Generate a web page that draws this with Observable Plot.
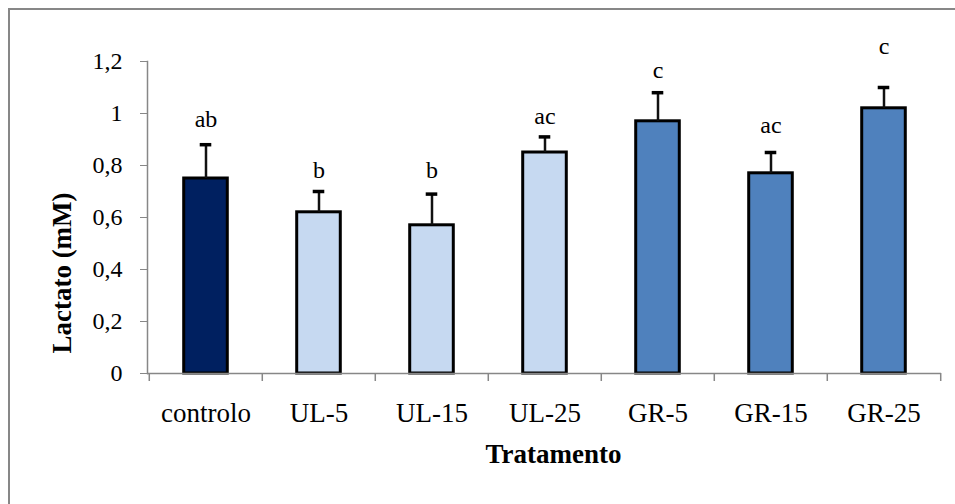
<!DOCTYPE html>
<html>
<head>
<meta charset="utf-8">
<script src="https://cdn.jsdelivr.net/npm/d3@7"></script>
<script src="https://cdn.jsdelivr.net/npm/@observablehq/plot@0.6"></script>
<style>
  html, body { margin: 0; padding: 0; background: #fff; }
  #wrap { position: relative; width: 955px; height: 504px; overflow: hidden; }
  #border { position: absolute; left: 8px; top: 8px; width: 947px; height: 496px;
            border-top: 2px solid #878787; border-left: 2px solid #878787; box-sizing: border-box; pointer-events: none; }
  #ylabel { position: absolute; left: 62px; top: 273px; transform: translate(-50%, -50%) rotate(-90deg);
            font-family: 'Liberation Serif', 'Times New Roman', serif; font-weight: bold; font-size: 27px;
            white-space: nowrap; color: #000; line-height: 1; }
</style>
</head>
<body>
<div id="wrap"><div id="border"></div><div id="ylabel">Lactato (mM)</div></div>
<script>
const categories = ["controlo", "UL-5", "UL-15", "UL-25", "GR-5", "GR-15", "GR-25"];
const means = [0.75, 0.62, 0.57, 0.85, 0.97, 0.77, 1.02];
const errors = [0.13, 0.08, 0.12, 0.06, 0.11, 0.08, 0.08];
const letters = ["ab", "b", "b", "ac", "c", "ac", "c"];
const letterY = [0.976, 0.78, 0.78, 0.99, 1.168, 0.953, 1.257];
const colors = ["#002060", "#C6D9F1", "#C6D9F1", "#C6D9F1", "#4F81BD", "#4F81BD", "#4F81BD"];
const yTicks = [0, 0.2, 0.4, 0.6, 0.8, 1, 1.2];

const data = categories.map((c, i) => ({
  cat: c, mean: means[i], err: errors[i], upper: means[i] + errors[i],
  letter: letters[i], ly: letterY[i], color: colors[i]
}));

const W = 955, H = 504, mL = 147, mR = 14, mT = 61, mB = 131;
const step = (W - mL - mR) / categories.length;
const serif = "'Liberation Serif', 'Times New Roman', serif";

const chart = Plot.plot({
  width: W, height: H,
  marginLeft: mL, marginRight: mR, marginTop: mT, marginBottom: mB,
  style: { fontFamily: serif, background: "transparent", color: "#000", overflow: "visible" },
  x: { domain: categories, padding: 0, label: null },
  y: { domain: [0, 1.2], label: null },
  marks: [
    Plot.barY(data, { x: "cat", y: "mean", fill: "color", stroke: "#000", strokeWidth: 3,
      insetLeft: step * 0.306, insetRight: step * 0.306 }),
    Plot.ruleX(data, { x: "cat", y1: "mean", y2: "upper", stroke: "#111", strokeWidth: 2.5 }),
    Plot.tickY(data, { x: "cat", y: "upper", stroke: "#000", strokeWidth: 3.5,
      insetLeft: (step - 12) / 2, insetRight: (step - 12) / 2 }),
    Plot.text(data, { x: "cat", y: "ly", text: "letter", fontSize: 24, fill: "#000" }),
    Plot.ruleY([0], { stroke: "#878787", strokeWidth: 1.5 }),
    Plot.frame({ anchor: "left", stroke: "#878787", strokeWidth: 1.5 }),
    Plot.axisY({ ticks: yTicks, tickSize: 7, tickPadding: 18, stroke: "#878787",
      tickFormat: d => String(d).replace(".", ","), fontSize: 24, fill: "#000", label: null }),
    Plot.axisX({ tickSize: 0, tickPadding: 29, fontSize: 27, fill: "#000", label: null }),
    Plot.axisX({ tickSize: 8, dx: -step / 2, text: null, stroke: "#878787", strokeWidth: 1.5, label: null }),
    Plot.axisX([categories[categories.length - 1]], { tickSize: 8, dx: step / 2, text: null, stroke: "#878787", strokeWidth: 1.5, label: null }),
    Plot.text(["Tratamento"], { frameAnchor: "bottom", dx: 9, dy: 89, fontSize: 27, fontWeight: "bold", fill: "#000" })
  ]
});
document.getElementById("wrap").prepend(chart);
</script>
</body>
</html>
